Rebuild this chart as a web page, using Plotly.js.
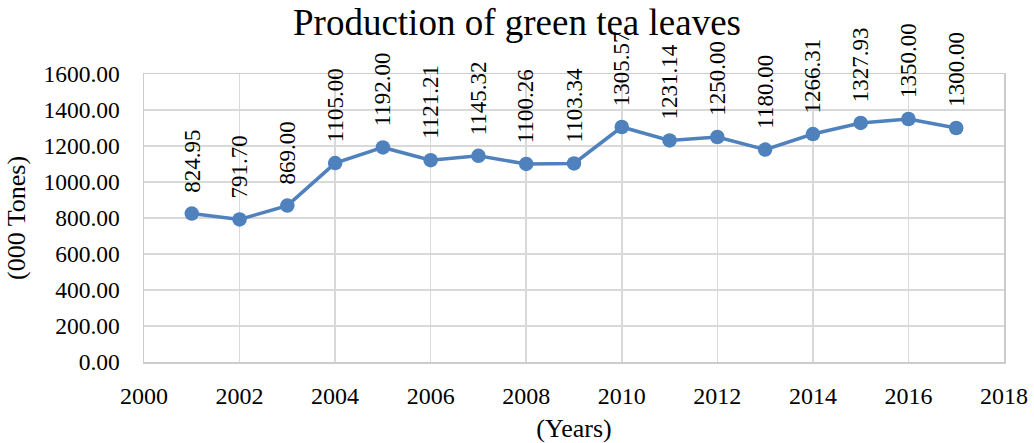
<!DOCTYPE html>
<html>
<head>
<meta charset="utf-8">
<script src="https://cdn.plot.ly/plotly-3.0.1.min.js"></script>
<style>
  html, body { margin: 0; padding: 0; background: #fff; }
  #chart { width: 1034px; height: 443px; }
</style>
</head>
<body>
<div id="chart"></div>
<script>
// Green tea leaf production, thousand tonnes per year
const years = [2001, 2002, 2003, 2004, 2005, 2006, 2007, 2008, 2009,
               2010, 2011, 2012, 2013, 2014, 2015, 2016, 2017];
const production = [824.95, 791.70, 869.00, 1105.00, 1192.00, 1121.21, 1145.32,
                    1100.26, 1103.34, 1305.57, 1231.14, 1250.00, 1180.00,
                    1266.31, 1327.93, 1350.00, 1300.00];

const serif = '"Liberation Serif", "Times New Roman", serif';
const blue = '#4F81BD';

const trace = {
  x: years,
  y: production,
  type: 'scatter',
  mode: 'lines+markers',
  line: { color: blue, width: 3.5 },
  marker: { color: blue, size: 14.5 },
  hoverinfo: 'skip'
};

// Vertical value labels above each point
const labels = years.map((yr, i) => ({
  x: yr,
  y: production[i],
  xref: 'x',
  yref: 'y',
  text: production[i].toFixed(2),
  textangle: -90,
  showarrow: false,
  xanchor: 'center',
  yanchor: 'bottom',
  yshift: 19,
  font: { family: serif, size: 23, color: '#000' }
}));

const layout = {
  width: 1034,
  height: 443,
  margin: { l: 144, r: 30, t: 74, b: 81 },
  paper_bgcolor: '#fff',
  plot_bgcolor: '#fff',
  showlegend: false,
  title: {
    text: 'Production of green tea leaves',
    font: { family: serif, size: 37, color: '#000' },
    x: 0.5,
    xanchor: 'center',
    y: 0.95,
    yanchor: 'middle'
  },
  xaxis: {
    range: [2000, 2018],
    tick0: 2000,
    dtick: 2,
    showgrid: true,
    gridcolor: '#d9d9d9',
    gridwidth: 1.5,
    showline: true,
    linecolor: '#cccccc',
    linewidth: 1.5,
    mirror: true,
    zeroline: false,
    ticks: '',
    ticklabelstandoff: 12,
    tickfont: { family: serif, size: 24, color: '#000' },
    title: {
      text: '(Years)',
      font: { family: serif, size: 26, color: '#000' },
      standoff: 13
    }
  },
  yaxis: {
    range: [0, 1600],
    tick0: 0,
    dtick: 200,
    tickformat: '.2f',
    showgrid: true,
    gridcolor: '#d9d9d9',
    gridwidth: 1.5,
    showline: true,
    linecolor: '#cccccc',
    linewidth: 1.5,
    mirror: true,
    zeroline: false,
    ticks: '',
    ticklabelstandoff: 18,
    tickfont: { family: serif, size: 23.5, color: '#000' },
    title: {
      text: '(000 Tones)',
      font: { family: serif, size: 26, color: '#000' },
      standoff: 10
    }
  },
  annotations: labels
};

Plotly.newPlot('chart', [trace], layout, { staticPlot: true, displayModeBar: false });
</script>
</body>
</html>
